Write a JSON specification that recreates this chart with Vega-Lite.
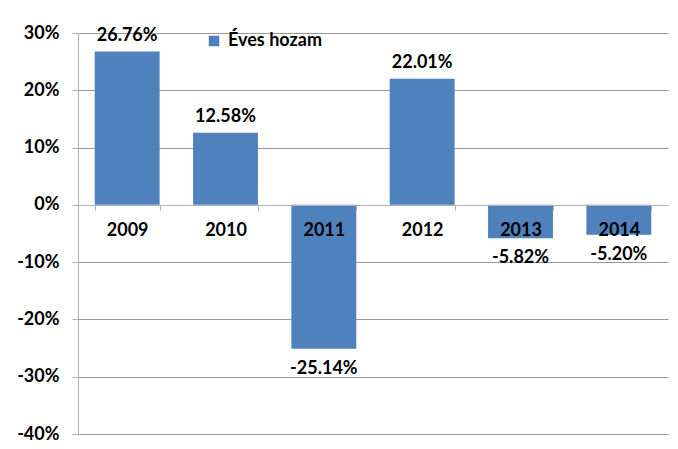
{
  "$schema": "https://vega.github.io/schema/vega-lite/v6.json",
  "width": 590,
  "height": 401,
  "autosize": "none",
  "padding": {"left": 78, "top": 33, "right": 10, "bottom": 15},
  "background": "white",
  "config": {
    "view": {"stroke": null},
    "font": "Lato",
    "locale": {
      "number": {"decimal": ".", "thousands": ",", "grouping": [3], "currency": ["", ""], "minus": "-"}
    }
  },
  "data": {
    "values": [
      {"year": "2009", "value": 0.2676, "series": "Éves hozam"},
      {"year": "2010", "value": 0.1258, "series": "Éves hozam"},
      {"year": "2011", "value": -0.2514, "series": "Éves hozam"},
      {"year": "2012", "value": 0.2201, "series": "Éves hozam"},
      {"year": "2013", "value": -0.0582, "series": "Éves hozam"},
      {"year": "2014", "value": -0.0520, "series": "Éves hozam"}
    ]
  },
  "encoding": {
    "x": {
      "field": "year",
      "type": "nominal",
      "scale": {"paddingInner": 0.34, "paddingOuter": 0.17},
      "axis": {
        "title": null,
        "orient": "bottom",
        "offset": -229,
        "labelAngle": 0,
        "labelFont": "Lato",
        "labelFontSize": 18,
        "labelFontWeight": "bold",
        "labelColor": "#000000",
        "labelPadding": 11,
        "domainColor": "#b0b0b0",
        "tickColor": "#b0b0b0",
        "tickSize": 5,
        "tickBand": "extent",
        "zindex": 1
      }
    },
    "y": {
      "field": "value",
      "type": "quantitative",
      "scale": {"domain": [-0.4, 0.3], "nice": false, "zero": false},
      "axis": {
        "title": null,
        "format": ".0%",
        "values": [-0.4, -0.3, -0.2, -0.1, 0, 0.1, 0.2, 0.3],
        "labelFont": "Lato",
        "labelFontSize": 18,
        "labelFontWeight": "bold",
        "labelColor": "#000000",
        "labelPadding": 13,
        "tickSize": 6,
        "tickColor": "#b0b0b0",
        "domainColor": "#b0b0b0",
        "gridColor": "#999999",
        "grid": true
      }
    }
  },
  "layer": [
    {
      "mark": {"type": "bar"},
      "encoding": {
        "color": {
          "field": "series",
          "type": "nominal",
          "scale": {"range": ["#4F81BD"]},
          "legend": {
            "title": null,
            "orient": "none",
            "legendX": 127,
            "legendY": -1,
            "symbolType": "square",
            "symbolSize": 110,
            "symbolStrokeWidth": 0,
            "labelFont": "Lato",
            "labelFontSize": 18,
            "labelFontWeight": "bold",
            "labelColor": "#000000",
            "labelOffset": 5
          }
        }
      }
    },
    {
      "transform": [{"filter": "datum.value >= 0"}],
      "mark": {"type": "text", "baseline": "bottom", "dy": -7, "fontSize": 18, "fontWeight": "bold", "font": "Lato", "color": "#000000"},
      "encoding": {"text": {"field": "value", "type": "quantitative", "format": ".2%"}}
    },
    {
      "transform": [{"filter": "datum.value < 0"}],
      "mark": {"type": "text", "baseline": "top", "dy": 11, "fontSize": 18, "fontWeight": "bold", "font": "Lato", "color": "#000000"},
      "encoding": {"text": {"field": "value", "type": "quantitative", "format": ".2%"}}
    }
  ]
}
